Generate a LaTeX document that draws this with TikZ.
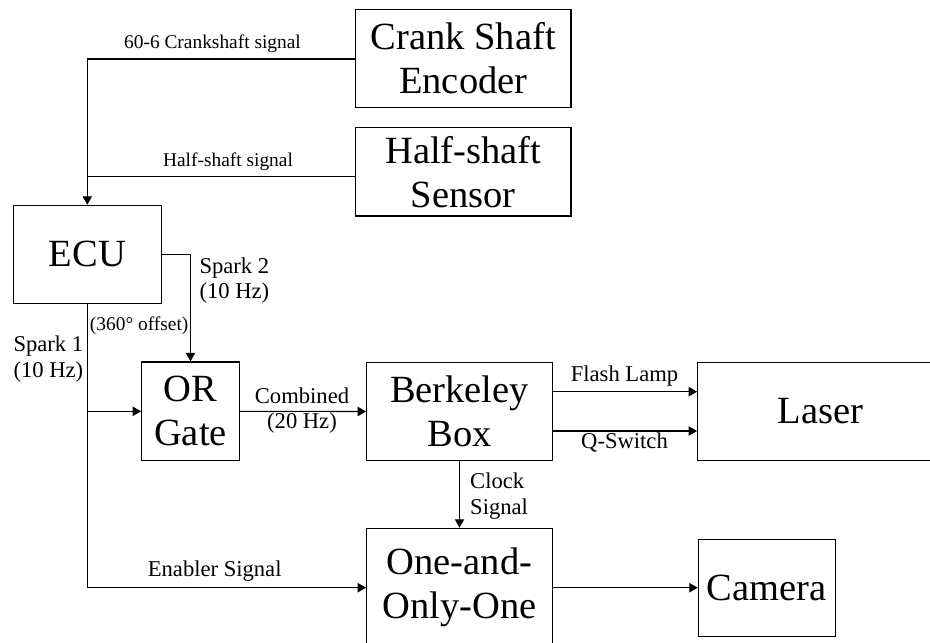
\documentclass[tikz,border=0pt]{standalone}
\usepackage{fontspec}
\setmainfont{Liberation Serif}
\usetikzlibrary{arrows.meta,calc}

\tikzset{
  block/.style={draw, line width=1.1pt, inner sep=0pt, align=center,
    font=\fontsize{38.5}{44}\selectfont},
  wire/.style={line width=1.1pt},
  sig/.style={wire, -{Triangle[length=8.5pt,width=9.3pt]}},
  lbl/.style={inner sep=0pt, font=\fontsize{22.6}{25.5}\selectfont},
  lblsmall/.style={inner sep=0pt, font=\fontsize{19.4}{22}\selectfont},
}

\begin{document}
\begin{tikzpicture}[x=1pt,y=-1pt]
  \useasboundingbox (0,0) rectangle (930,643);

  % blocks
  \node[block, minimum width=215.3pt, minimum height=98.4pt] (crank) at (463.3,58.5) {Crank Shaft\\Encoder};
  \node[block, minimum width=215.3pt, minimum height=88.3pt] (half) at (463.3,171.8) {Half-shaft\\Sensor};
  \node[block, minimum width=148pt, minimum height=98pt] (ecu) at (87.3,254.3) {ECU};
  \node[block, minimum width=97.6pt, minimum height=98.7pt] (orgate) at (190.5,411.3) {OR\\Gate};
  \node[block, minimum width=185.6pt, minimum height=98.4pt] (berk) at (459.5,411.5) {Berkeley\\Box};
  \node[block, minimum width=246pt, minimum height=97.7pt] (laser) at (820.7,411.2) {Laser};
  \node[block, minimum width=185.6pt, minimum height=118.8pt] (one) at (459.5,587.7) {One-and-\\Only-One};
  \node[block, minimum width=136.7pt, minimum height=97.3pt] (camera) at (766.7,587.7) {Camera};

  % junction points
  \coordinate (jtop) at (87.3,59);
  \coordinate (jhalf) at (87.3,176.7);
  \coordinate (jor) at (87.3,411.3);
  \coordinate (jen) at (87.3,587.7);
  \coordinate (s2) at (190.5,254.3);

  % sensor signals into the ECU
  \draw[wire] (crank.west |- jtop) -- (jtop);
  \draw[sig] (jtop) -- (ecu.north);
  \draw[wire] (half.west |- jhalf) -- (jhalf);

  % spark outputs
  \draw[sig] (ecu.east) -- (s2) -- (orgate.north);
  \draw[wire] (ecu.south) -- (jen);
  \draw[sig] (jor) -- (orgate.west);
  \draw[sig] (jen) -- (one.west);

  % timing chain
  \draw[sig] (orgate.east) -- (berk.west);
  \draw[sig] ($(berk.east)+(0,-19.8)$) -- ($(laser.west)+(0,-19.5)$);
  \draw[sig] ($(berk.east)+(0,19.5)$) -- ($(laser.west)+(0,19.8)$);
  \draw[sig] (berk.south) -- (one.north);
  \draw[sig] (one.east) -- (camera.west);

  % signal labels (multi-line labels are placed by the baseline of their last line)
  \node[lblsmall, anchor=base] (lcrank) at (212.5,48) {60-6 Crankshaft signal};
  \node[lblsmall, anchor=base] (lhalf) at (228,166) {Half-shaft signal};
  \node[lbl, anchor=base west, align=left] (lspk2) at (199.3,298.5) {Spark 2\\(10 Hz)};
  \node[lblsmall, anchor=base] (loff) at (139.2,330) {(360° offset)};
  \node[lbl, anchor=base west, align=left] (lspk1) at (13.3,377) {Spark 1\\(10 Hz)};
  \node[lbl, anchor=base, align=center] (lcomb) at (302,428.5) {Combined\\(20 Hz)};
  \node[lbl, anchor=base] (lflash) at (624.5,381) {Flash Lamp};
  \node[lbl, anchor=base] (lq) at (624.5,448.3) {Q-Switch};
  \node[lbl, anchor=base west, align=left] (lclk) at (470,514) {Clock\\Signal};
  \node[lbl, anchor=base] (len) at (214.7,576.7) {Enabler Signal};
\end{tikzpicture}
\end{document}
